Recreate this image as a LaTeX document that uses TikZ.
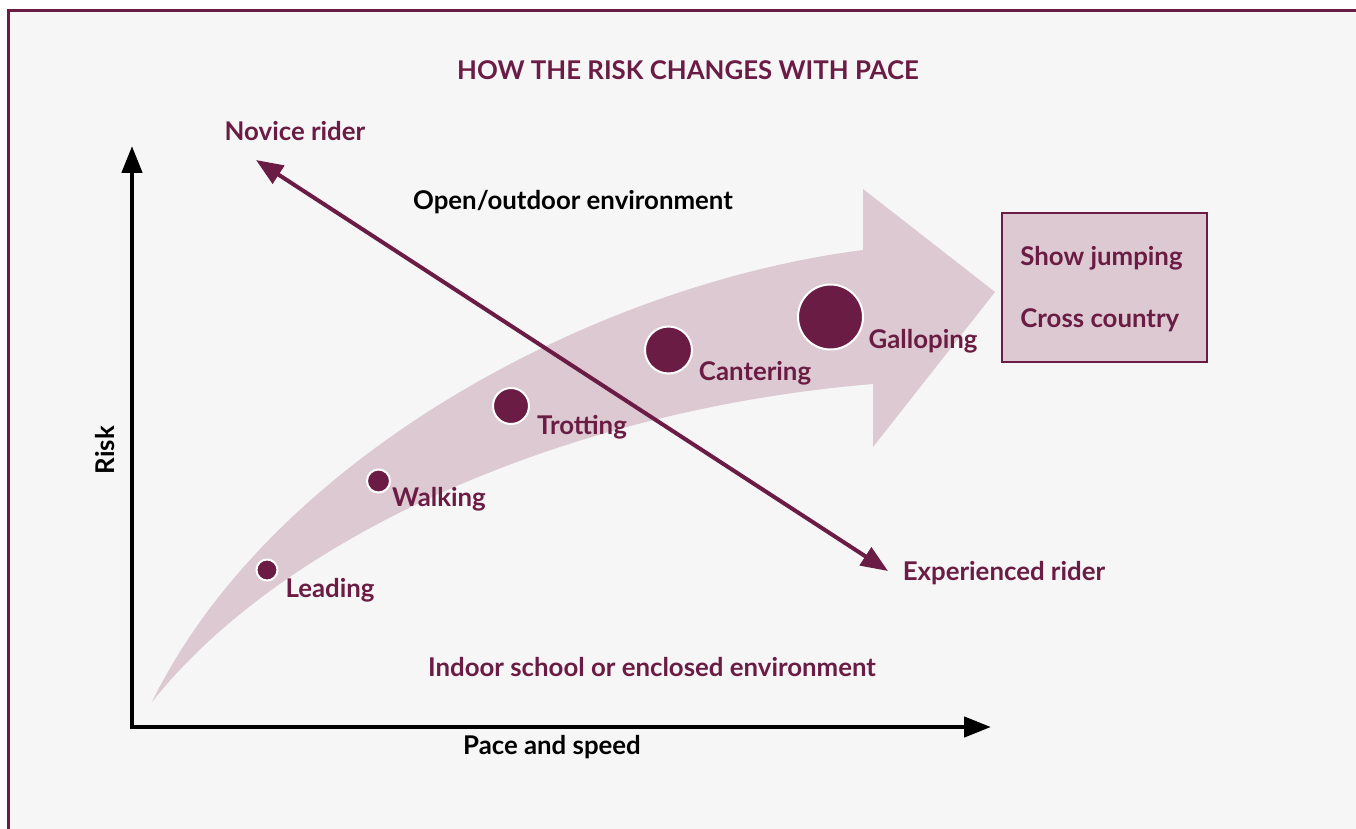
\documentclass[tikz,border=0pt]{standalone}
\usepackage{fontspec}
\setmainfont{Lato}
\usetikzlibrary{arrows.meta}
\definecolor{plum}{RGB}{107,28,68}
\definecolor{blush}{RGB}{220,201,209}
\definecolor{paper}{RGB}{246,246,246}

\begin{document}
\begin{tikzpicture}[x=0.5pt,y=-0.5pt]
    \tikzstyle{every node}=[font=\fontsize{12.9}{14}\selectfont\bfseries, inner sep=0pt]
    \tikzstyle{lbl}=[text=plum]
    \tikzstyle{dot}=[circle, fill=plum, draw=white, line width=1pt, inner sep=0pt]
    \tikzstyle{axis}=[line width=2.25pt, {Triangle[length=13.5pt,width=10pt]}-{Triangle[length=13.5pt,width=10pt]}]
    \useasboundingbox (0,0) rectangle (1356,829);
    \fill[white] (0,0) rectangle (1356,829);
    \fill[paper] (8.7,10.5) rectangle (1356,829);
    \draw[plum, line width=1.4pt] (8.7,829) -- (8.7,10.5) -- (1356,10.5);
    \node[lbl] (title) at (688,70) {HOW THE RISK CHANGES WITH PACE};
    \fill[blush] (152,702) .. controls (270,460) and (590,285) .. (863,250)
      -- (863,189) -- (995,292) -- (873,447) -- (873,384)
      .. controls (560,410) and (280,540) .. (152,702) -- cycle;
    \coordinate (O) at (132,727);
    \coordinate (ytop) at (132,146);
    \coordinate (xend) at (991,727);
    \draw[axis] (ytop) -- (O) -- (xend);
    \node[rotate=90] (risk) at (105,450) {Risk};
    \node (pace) at (552,747) {Pace and speed};
    \node (open) at (573,202) {Open/outdoor environment};
    \node[lbl] (indoor) at (652,667) {Indoor school or enclosed environment};
    \coordinate (nov) at (256,160);
    \coordinate (expd) at (888,571);
    \draw[plum, line width=2pt, {Triangle[length=13.5pt,width=10.5pt]}-{Triangle[length=13.5pt,width=10.5pt]}] (nov) -- (expd);
    \node[lbl] (novice) at (295,131) {Novice rider};
    \node[lbl] (experienced) at (1004,573) {Experienced rider};
    \foreach \nm/\x/\y/\d in {lead/267/570/10.5pt, walk/378.5/481/11.5pt, trot/511/406/18pt, cant/668.5/350/23.5pt, gall/830.5/317/32.5pt}
      \node[dot, minimum size=\d] (\nm) at (\x,\y) {};
    \foreach \t/\x/\y in {Leading/330/590, Walking/439/499, Trotting/582/427, Cantering/755/373, Galloping/923/341}
      \node[lbl] at (\x,\y) {\t};
    \node[draw=plum, fill=blush, line width=1pt, minimum width=102.5pt, minimum height=74.5pt] (events) at (1104.5,287.5) {};
    \node[lbl, anchor=west] (show) at (1020,258) {Show jumping};
    \node[lbl, anchor=west] (cross) at (1020,320) {Cross country};
\end{tikzpicture}
\end{document}
